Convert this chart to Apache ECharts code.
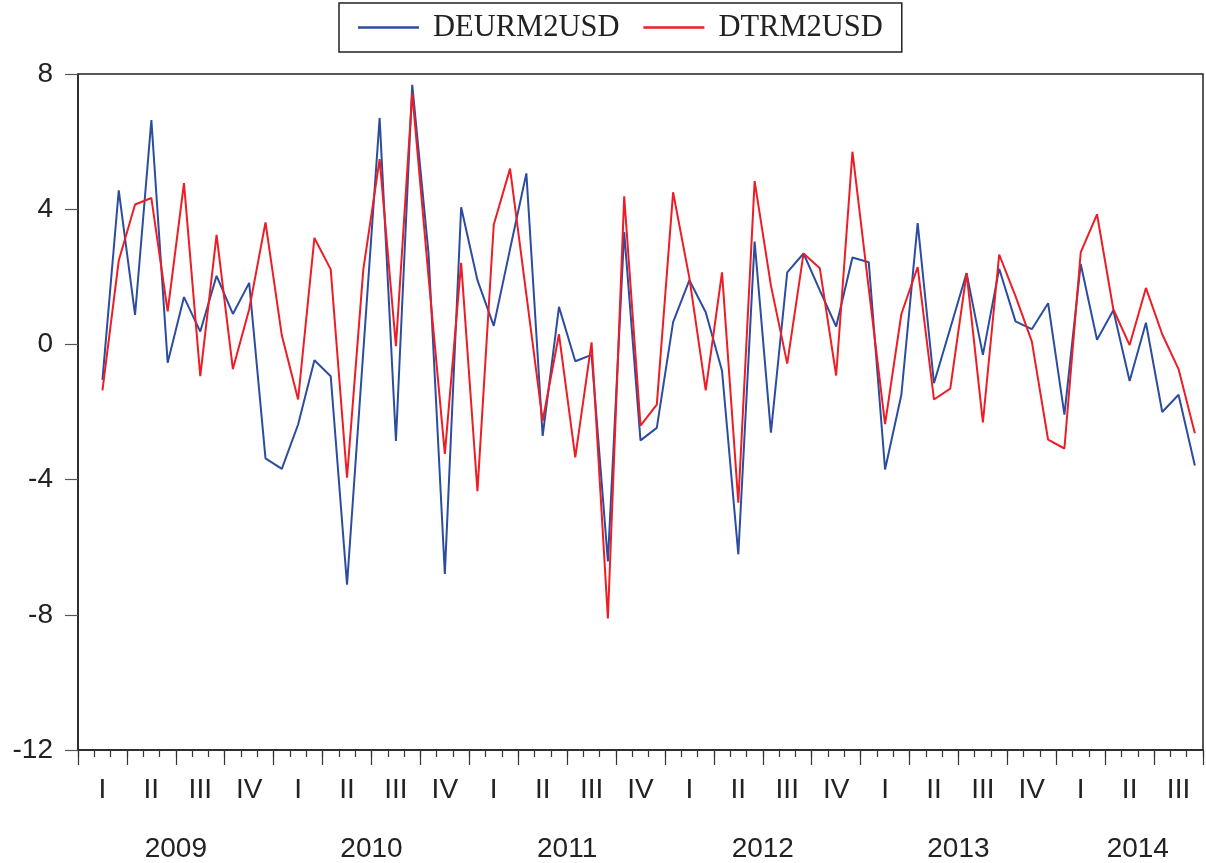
<!DOCTYPE html>
<html>
<head>
<meta charset="utf-8">
<title>DEURM2USD / DTRM2USD</title>
<script src="https://cdn.jsdelivr.net/npm/echarts@6/dist/echarts.min.js"></script>
<style>
  html, body { margin: 0; padding: 0; background: #fff; }
  #chart { width: 1206px; height: 863px; }
</style>
</head>
<body>
<div id="chart"></div>
<script>
// Monthly first differences, 2009M01 – 2014M09 (first month has no difference)
const years = ['2009', '2010', '2011', '2012', '2013', '2014'];
const monthsInYear = [12, 12, 12, 12, 12, 9];
const quarterLabels = ['I', 'II', 'III', 'IV'];

const seriesNames = ['DEURM2USD', 'DTRM2USD'];

const deurm2usd = [
  null, -1.05, 4.56, 0.87, 6.64, -0.54, 1.40, 0.38, 2.03, 0.90, 1.82, -3.37,
  -3.68, -2.37, -0.47, -0.94, -7.11, -0.20, 6.70, -2.86, 7.68, 2.69, -6.79, 4.06,
  1.90, 0.55, 2.82, 5.06, -2.71, 1.11, -0.50, -0.31, -6.42, 3.32, -2.84, -2.47,
  0.66, 1.90, 0.95, -0.78, -6.21, 3.04, -2.61, 2.13, 2.69, 1.60, 0.53, 2.57,
  2.43, -3.70, -1.49, 3.59, -1.15, 0.48, 2.11, -0.31, 2.24, 0.68, 0.45, 1.22,
  -2.08, 2.38, 0.14, 1.01, -1.08, 0.64, -2.00, -1.49, -3.58
];

const dtrm2usd = [
  null, -1.36, 2.48, 4.14, 4.33, 0.98, 4.77, -0.94, 3.24, -0.73, 1.04, 3.61,
  0.27, -1.63, 3.15, 2.22, -3.94, 2.22, 5.48, -0.05, 7.43, 2.00, -3.24, 2.41,
  -4.34, 3.54, 5.20, 1.47, -2.26, 0.30, -3.34, 0.06, -8.11, 4.38, -2.40, -1.78,
  4.50, 1.96, -1.36, 2.13, -4.68, 4.83, 1.74, -0.57, 2.69, 2.25, -0.92, 5.70,
  1.65, -2.36, 0.90, 2.29, -1.63, -1.31, 2.11, -2.31, 2.66, 1.43, 0.09, -2.82,
  -3.08, 2.72, 3.85, 1.04, -0.02, 1.67, 0.30, -0.73, -2.63
];

const yTicks = { min: -12, max: 8, step: 4 };

// Month categories like "2009M01"
const months = [];
years.forEach((y, k) => {
  for (let m = 1; m <= monthsInYear[k]; m++) {
    months.push(y + 'M' + String(m).padStart(2, '0'));
  }
});
const nMonths = months.length;

// Year caption: centred on the year's span (a partial last year is
// centred on the span it would take up through its next quarter)
const yearCenters = {};
let start = 0;
years.forEach((y, k) => {
  const span = Math.min(12, Math.ceil((monthsInYear[k] + 1) / 3) * 3 - 2);
  yearCenters[start + span / 2] = y;
  start += monthsInYear[k];
});

const sansFont = '"Liberation Sans", Arial, sans-serif';
const serifFont = '"Liberation Serif", "Times New Roman", serif';
const inkColor = '#222';

const chart = echarts.init(document.getElementById('chart'), null, { renderer: 'canvas' });

const gridPos = { left: 78, right: 2, top: 74, bottom: 112 };

// Hidden-line value axis spanning the months, used for ticks and captions
function monthScaleAxis(extra) {
  return Object.assign({
    type: 'value',
    min: 0,
    max: nMonths,
    position: 'bottom',
    axisLine: { show: false, onZero: false },
    axisTick: { show: false },
    axisLabel: { show: false },
    splitLine: { show: false }
  }, extra);
}

chart.setOption({
  animation: false,
  backgroundColor: '#fff',
  legend: {
    data: seriesNames,
    left: 339,
    top: 3,
    orient: 'horizontal',
    icon: 'rect',
    itemWidth: 61,
    itemHeight: 2.5,
    itemGap: 24,
    padding: [9, 19, 9, 19],
    borderColor: inkColor,
    borderWidth: 1.5,
    textStyle: {
      fontFamily: serifFont,
      fontSize: 30.5,
      color: inkColor,
      lineHeight: 30,
      padding: [0, 0, 0, 9]
    }
  },
  grid: Object.assign({ show: true, borderColor: inkColor, borderWidth: 1.5, backgroundColor: '#fff' }, gridPos),
  xAxis: [
    {
      // monthly categories with quarter numerals
      type: 'category',
      data: months,
      boundaryGap: true,
      position: 'bottom',
      axisLine: { show: true, onZero: false, lineStyle: { color: inkColor, width: 1.5 } },
      axisTick: { show: false },
      axisLabel: {
        interval: (idx) => idx % 3 === 1,
        formatter: (val) => quarterLabels[Math.floor((parseInt(val.slice(5), 10) - 1) / 3)],
        fontFamily: sansFont,
        fontSize: 28,
        color: inkColor,
        margin: 26
      },
      splitLine: { show: false }
    },
    // short tick at every month boundary
    monthScaleAxis({
      interval: 1,
      axisTick: { show: true, length: 7, lineStyle: { color: '#333', width: 1.2 } }
    }),
    // long tick at every quarter boundary
    monthScaleAxis({
      interval: 3,
      axisTick: { show: true, length: 15, lineStyle: { color: '#333', width: 1.2 } }
    }),
    // year captions
    monthScaleAxis({
      interval: 0.5,
      axisLabel: {
        show: true,
        showMinLabel: true,
        showMaxLabel: true,
        formatter: (v) => yearCenters[v] || '',
        fontFamily: sansFont,
        fontSize: 28,
        color: inkColor,
        margin: 85
      }
    })
  ],
  yAxis: {
    type: 'value',
    min: yTicks.min,
    max: yTicks.max,
    interval: yTicks.step,
    axisLine: { show: true, onZero: false, lineStyle: { color: inkColor, width: 1.5 } },
    axisTick: { show: true, length: 13, lineStyle: { color: '#555', width: 1.2 } },
    axisLabel: {
      fontFamily: sansFont,
      fontSize: 28,
      color: inkColor,
      margin: 25
    },
    splitLine: { show: false }
  },
  series: [
    {
      name: seriesNames[0],
      type: 'line',
      xAxisIndex: 0,
      data: deurm2usd,
      symbol: 'none',
      itemStyle: { color: '#2c4d9f' },
      lineStyle: { color: '#2c4d9f', width: 2 },
      z: 2
    },
    {
      name: seriesNames[1],
      type: 'line',
      xAxisIndex: 0,
      data: dtrm2usd,
      symbol: 'none',
      itemStyle: { color: '#ee1d25' },
      lineStyle: { color: '#ee1d25', width: 2 },
      z: 3
    }
  ]
});
</script>
</body>
</html>
